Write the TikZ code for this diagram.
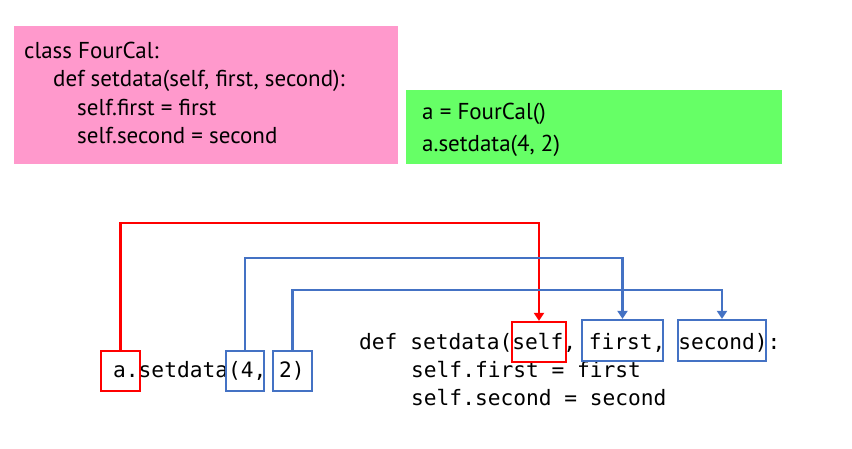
\documentclass[tikz,border=0pt]{standalone}
\usepackage{fontspec}
\setmainfont{PT Sans}
\setmonofont{DejaVu Sans Mono}
\usetikzlibrary{arrows.meta, calc}

\definecolor{boxpink}{RGB}{255,153,204}
\definecolor{boxgreen}{RGB}{102,255,102}
\definecolor{argblue}{RGB}{68,114,196}

\tikzset{
  hand/.style={anchor=base west, inner sep=0pt, font=\fontsize{23}{27}\selectfont},
  code/.style={anchor=base west, inner sep=0pt, font=\fontsize{21.2}{26}\ttfamily},
  redbox/.style={draw=red, line width=2.2pt, inner sep=0pt},
  bluebox/.style={draw=argblue, line width=2.2pt, inner sep=0pt},
  redline/.style={draw=red, line width=2.2pt, -{Triangle[length=8pt,width=10pt]}},
  blueline/.style={draw=argblue, line width=2.2pt, -{Triangle[length=8pt,width=10pt]}}
}

\begin{document}
\begin{tikzpicture}[x=1pt,y=-1pt]
      \useasboundingbox (0,0) rectangle (852,448);

      % class definition
      \node[fill=boxpink, minimum width=384pt, minimum height=138pt, inner sep=0pt] (classbg) at (206,95) {};
      \node[hand] (cls)  at (24,58)  {class FourCal:};
      \node[hand] (cdef) at (53,86)  {def setdata(self, first, second):};
      \node[hand] (cfst) at (77,115) {self.first = first};
      \node[hand] (csnd) at (77,143) {self.second = second};

      % calls
      \node[fill=boxgreen, minimum width=376pt, minimum height=74pt, inner sep=0pt] (callbg) at (594,127) {};
      \node[hand] (inst) at (422,119) {a = FourCal()};
      \node[hand] (call) at (422,151) {a.setdata(4, 2)};

      % code below
      \node[code] (acall) at (113,377) {a.setdata(4, 2)};
      \node[code] (mdef)  at (359,349) {def setdata(self, first, second):};
      \node[code] (mfst)  at (411,377) {self.first = first};
      \node[code] (msnd)  at (411,405) {self.second = second};

      % argument boxes
      \node[redbox,  minimum width=39pt, minimum height=40pt] (abox)   at (120.5,371) {};
      \node[bluebox, minimum width=38pt, minimum height=40pt] (fourbox) at (245,371) {};
      \node[bluebox, minimum width=39pt, minimum height=40pt] (twobox)  at (292.5,371) {};
      \node[redbox,  minimum width=54pt, minimum height=40pt] (selfbox)   at (539,342) {};
      \node[bluebox, minimum width=81pt, minimum height=41pt] (firstbox)  at (622.5,340.5) {};
      \node[bluebox, minimum width=88pt, minimum height=41pt] (secondbox) at (722,340.5) {};

      % connectors
      \draw[redline]  (abox.north)    -- ++(0,-127) -| (selfbox.north);
      \draw[blueline] (fourbox.north) -- ++(0,-92)  -| (firstbox.north);
      \draw[blueline] (twobox.north)  -- ++(0,-60)  -| (secondbox.north);
\end{tikzpicture}
\end{document}
